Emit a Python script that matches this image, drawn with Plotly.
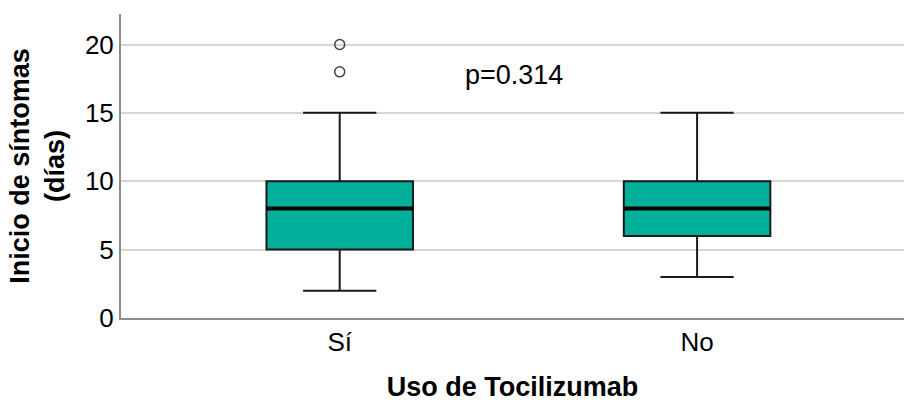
import plotly.graph_objects as go

# Box-plot summary statistics per group
groups = ["Sí", "No"]
lower_whisker = [2, 3]
q1 = [5, 6]
median = [8, 8]
q3 = [10, 10]
upper_whisker = [15, 15]
outlier_group = ["Sí", "Sí"]
outlier_values = [18, 20]
p_text = "p=0.314"

FONT = "Liberation Sans, Arial, sans-serif"
FILL = "#00b09b"
BOX_W = 0.41

pos = {g: i for i, g in enumerate(groups)}

fig = go.Figure()
for i, g in enumerate(groups):
    fig.add_trace(go.Box(
        x=[pos[g]], q1=[q1[i]], median=[median[i]], q3=[q3[i]],
        lowerfence=[lower_whisker[i]], upperfence=[upper_whisker[i]],
        width=BOX_W, whiskerwidth=0.5,
        fillcolor=FILL, line=dict(color="#1a1a1a", width=2),
        boxpoints=False, showlegend=False, hoverinfo="skip",
    ))
    # thicker median bar
    fig.add_trace(go.Scatter(
        x=[pos[g] - BOX_W / 2, pos[g] + BOX_W / 2], y=[median[i], median[i]],
        mode="lines", line=dict(color="black", width=4),
        showlegend=False, hoverinfo="skip",
    ))

fig.add_trace(go.Scatter(
    x=[pos[g] for g in outlier_group], y=outlier_values, mode="markers",
    marker=dict(symbol="circle-open", size=10, color="#444",
                line=dict(width=1.5, color="#444")),
    showlegend=False, hoverinfo="skip",
))

fig.add_annotation(x=0.488, y=17.8, xref="x", yref="y", text=p_text,
                   showarrow=False, font=dict(family=FONT, size=27, color="black"))

fig.update_layout(
    width=904, height=402,
    margin=dict(l=121, r=0, t=14, b=84),
    plot_bgcolor="white", paper_bgcolor="white",
    font=dict(family=FONT, color="black"),
    xaxis=dict(
        range=[-0.612, 1.579], tickvals=[pos[g] for g in groups], ticktext=groups,
        showgrid=False, zeroline=False, showline=True, linecolor="#8c8c8c",
        linewidth=2, tickfont=dict(size=26), ticks="", automargin=False,
        title=dict(text="<b>Uso de Tocilizumab</b>", font=dict(size=27), standoff=22),
    ),
    yaxis=dict(
        range=[0, 22.23], tickvals=[0, 5, 10, 15, 20],
        showgrid=True, gridcolor="#d6d6d6", gridwidth=2, zeroline=False,
        showline=True, linecolor="#8c8c8c", linewidth=2, ticks="", automargin=False,
        tickfont=dict(size=26),
        title=dict(text="<b>Inicio de síntomas<br>(días)</b>", font=dict(size=27), standoff=12),
    ),
)

fig.write_html("out.html")
